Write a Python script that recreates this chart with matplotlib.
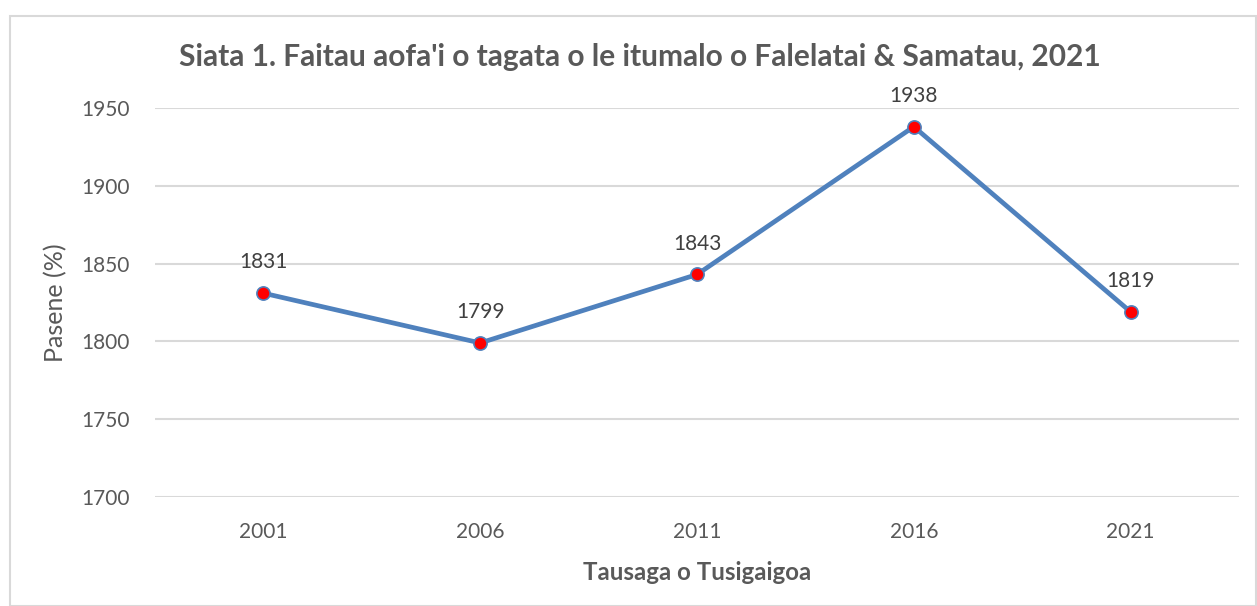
import matplotlib.pyplot as plt
from matplotlib.patches import Rectangle

years = ["2001", "2006", "2011", "2016", "2021"]
population = [1831, 1799, 1843, 1938, 1819]
y_ticks = [1700, 1750, 1800, 1850, 1900, 1950]

plt.rcParams['font.family'] = ['Lato', 'DejaVu Sans']
text_col = "#595959"

fig = plt.figure(figsize=(12.57, 6.06), dpi=100)
ax = fig.add_axes([155/1257, 1 - 497/606, (1239 - 155)/1257, (497 - 108)/606])

# chart border
fig.patches.append(Rectangle((10/1257, 0), 1246/1257, 1 - 16/606, transform=fig.transFigure,
                             fill=False, edgecolor="#d9d9d9", linewidth=1.5))

x = list(range(len(years)))
ax.plot(x, population, color="#4F81BD", linewidth=3.4, marker="o", markersize=9.5,
        markerfacecolor="red", markeredgecolor="#4F81BD", markeredgewidth=1.2, zorder=3)

for xi, v in zip(x, population):
    ax.annotate(str(v), (xi, v), xytext=(0, 15), textcoords="offset points",
                ha="center", va="bottom", fontsize=15, color="#404040")

ax.set_xlim(-0.5, len(years) - 0.5)
ax.set_ylim(1700, 1950)
ax.set_yticks(y_ticks)
ax.set_xticks(x)
ax.set_xticklabels(years)
ax.tick_params(axis="both", length=0, labelsize=15, labelcolor=text_col)
ax.tick_params(axis="y", pad=18)
ax.tick_params(axis="x", pad=18)
ax.grid(axis="y", color="#d9d9d9", linewidth=1.5)
ax.set_axisbelow(True)
for s in ax.spines.values():
    s.set_visible(False)

ax.set_ylabel("Pasene (%)", fontsize=18, color=text_col, labelpad=10)
ax.set_xlabel("Tausaga o Tusigaigoa", fontsize=17.3, color=text_col, fontweight="bold", labelpad=14)
fig.text(640/1257, 1 - 57/606, "Siata 1. Faitau aofa'i o tagata o le itumalo o Falelatai & Samatau, 2021",
         ha="center", va="center", fontsize=21.5, fontweight="bold", color=text_col)

fig.savefig("out.png", dpi=100)
